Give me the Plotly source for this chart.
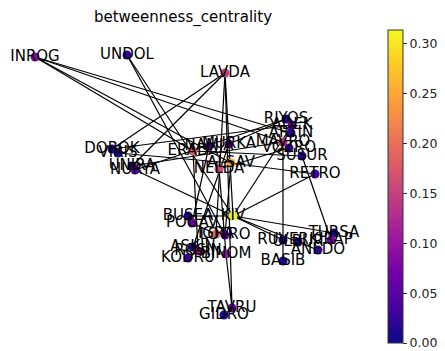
import plotly.graph_objects as go

# Node names, layout positions (layout units, y downward) and betweenness centrality values
nodes = ["INROG", "UNDOL", "LAVDA", "RIYOS", "ADEK", "ARTIN", "MAVRO", "VOZRO", "SUSUR", "RETRO",
         "DOROK", "VIRIS", "UNIRA", "NURYA", "ERADA", "NAMJA", "MURKA", "NELDA", "ALSAV", "KIV",
         "BUSEA", "POGAV", "IGRA", "LOTRO", "ASKIN", "ROSIN", "KODRU", "BINOM", "TAVRU", "GIDRO",
         "BASIB", "ANEDO", "TURSA", "KIRAP", "RUVER", "ULBUR"]
pos_x = [35, 127, 225, 286, 292, 291, 283, 289, 302, 315,
         112, 118, 132, 135, 193, 209, 229, 219, 231, 233,
         188, 192, 216, 225, 193, 198, 188, 226, 232, 224,
         283, 318, 334, 331, 283, 298]
pos_y = [57, 55, 73, 119, 125, 133, 142, 148, 156, 174,
         149, 153, 166, 170, 151, 146, 144, 169, 163, 216,
         216, 223, 234, 235, 247, 251, 258, 254, 308, 315,
         261, 250, 233, 240, 240, 242]
betweenness = [0.09, 0.02, 0.15, 0.01, 0.07, 0.02, 0.14, 0.02, 0.01, 0.03,
               0.01, 0.01, 0.02, 0.06, 0.18, 0.05, 0.07, 0.16, 0.25, 0.31,
               0.01, 0.06, 0.19, 0.06, 0.02, 0.11, 0.03, 0.10, 0.06, 0.01,
               0.01, 0.02, 0.01, 0.08, 0.01, 0.01]

edges = [("INROG", "ARTIN"), ("INROG", "MAVRO"), ("INROG", "ERADA"), ("INROG", "ALSAV"),
         ("UNDOL", "KIV"), ("UNDOL", "LOTRO"),
         ("LAVDA", "DOROK"), ("LAVDA", "UNIRA"), ("LAVDA", "IGRA"), ("LAVDA", "KIV"),
         ("LAVDA", "TAVRU"),
         ("DOROK", "ADEK"), ("NURYA", "RIYOS"), ("UNIRA", "MAVRO"), ("NURYA", "KIV"),
         ("VIRIS", "ALSAV"),
         ("ERADA", "SUSUR"), ("ERADA", "ROSIN"), ("NAMJA", "POGAV"), ("MURKA", "ASKIN"),
         ("MURKA", "RIYOS"), ("NELDA", "VOZRO"), ("NELDA", "BINOM"), ("ALSAV", "LOTRO"),
         ("ALSAV", "RETRO"),
         ("KIV", "RETRO"), ("KIV", "RUVER"), ("KIV", "TURSA"), ("KIV", "BUSEA"),
         ("KIV", "ADEK"), ("KIV", "ANEDO"),
         ("MAVRO", "BASIB"), ("SUSUR", "KIRAP"),
         ("BINOM", "TAVRU"), ("GIDRO", "TAVRU"), ("KODRU", "ROSIN"), ("POGAV", "IGRA")]

idx = {n: i for i, n in enumerate(nodes)}
ex, ey = [], []
for a, b in edges:
    ex += [pos_x[idx[a]], pos_x[idx[b]], None]
    ey += [pos_y[idx[a]], pos_y[idx[b]], None]

fig = go.Figure()
fig.add_trace(go.Scatter(x=ex, y=ey, mode="lines",
                         line=dict(color="black", width=1.2), hoverinfo="skip", showlegend=False))
fig.add_trace(go.Scatter(
    x=pos_x, y=pos_y, mode="markers+text", text=nodes, textposition="middle center",
    textfont=dict(family="DejaVu Sans", size=15, color="black"),
    marker=dict(size=9, color=betweenness, colorscale="Plasma", cmin=0, cmax=0.314,
                line=dict(width=0),
                showscale=True,
                colorbar=dict(x=388 / 445, xanchor="left", xpad=0, ypad=0,
                              y=1 - 30 / 351, yanchor="top",
                              len=313 / 351, lenmode="fraction",
                              thickness=15, thicknessmode="pixels",
                              outlinewidth=1, outlinecolor="#333333",
                              ticks="outside", ticklen=4, tickcolor="#333333",
                              tickvals=[0, 0.05, 0.10, 0.15, 0.20, 0.25, 0.30],
                              ticktext=["0.00", "0.05", "0.10", "0.15", "0.20", "0.25", "0.30"],
                              tickfont=dict(family="DejaVu Sans", size=12.5, color="#222222"))),
    showlegend=False))

fig.update_layout(
    width=445, height=351,
    margin=dict(l=0, r=0, t=0, b=0),
    paper_bgcolor="white", plot_bgcolor="white",
    title=dict(text="betweenness_centrality", x=183 / 445, xanchor="center",
               y=1 - 17 / 351, yanchor="middle",
               font=dict(family="DejaVu Sans", size=15, color="black")),
    xaxis=dict(range=[0, 445], visible=False, fixedrange=True),
    yaxis=dict(range=[351, 0], visible=False, fixedrange=True),
)

fig.write_html("out.html", config={"displayModeBar": False},
               post_script="document.body.style.margin='0px';document.body.style.overflow='hidden';")
